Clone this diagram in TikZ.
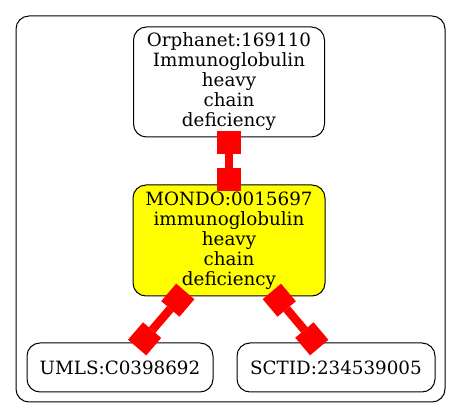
\documentclass[tikz,border=0pt]{standalone}
\usepackage{fontspec}
\setmainfont{DejaVu Serif}
\usetikzlibrary{arrows.meta}
\definecolor{nodeyellow}{HTML}{FFFF00}
\definecolor{edgered}{HTML}{FF0000}
\tikzset{
  termbox/.style={draw=black, line width=1pt, rounded corners=13pt, inner sep=0pt, outer sep=0pt,
    align=center, font=\fontsize{18.3}{20}\selectfont, fill=white},
  linkedge/.style={draw=edgered, line width=8.5pt,
    {Square[length=23pt,width=24pt,line width=0pt]}-{Square[length=23pt,width=24pt,line width=0pt]},
    shorten <=-6pt, shorten >=-6pt},
  frame/.style={draw=black, line width=1pt, rounded corners=13pt}
}
\begin{document}
\begin{tikzpicture}[x=1pt, y=-1pt]
\useasboundingbox (0,0) rectangle (461,419);
\draw[frame] (16,16) rectangle (445,402);
\node[termbox, minimum width=191pt, minimum height=110pt] (orph) at (229,82)
  {Orphanet:169110\\Immunoglobulin\\heavy\\chain\\deficiency};
\node[termbox, fill=nodeyellow, minimum width=192pt, minimum height=111pt] (mondo) at (229,240.5)
  {MONDO:0015697\\immunoglobulin\\heavy\\chain\\deficiency};
\node[termbox, minimum width=186pt, minimum height=49pt] (umls) at (120,367.5) {UMLS:C0398692};
\node[termbox, minimum width=198pt, minimum height=49pt] (sctid) at (336,367.5) {SCTID:234539005};
\draw[linkedge] (orph) -- (mondo);
\draw[linkedge] (mondo) -- (umls);
\draw[linkedge] (mondo) -- (sctid);
\end{tikzpicture}
\end{document}
